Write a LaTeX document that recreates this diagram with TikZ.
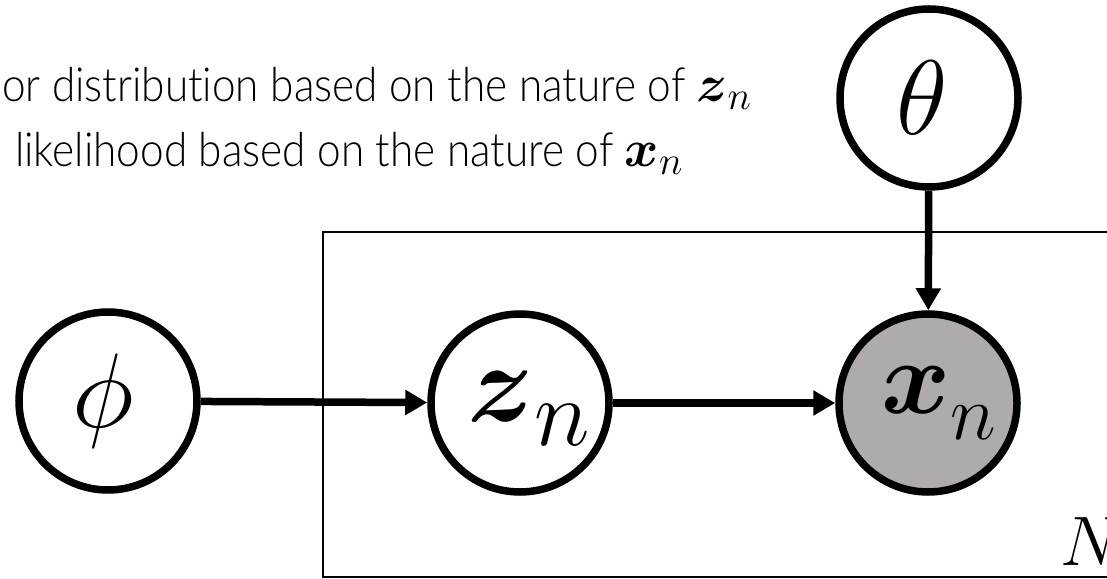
\RequirePackage{fix-cm}
\documentclass[tikz,border=0pt]{standalone}
\usepackage{amsmath,bm}
\usepackage{graphicx}
\usepackage{fontspec}
\newfontfamily\lightsans{Lato Light}[Ligatures=NoCommon]
\usetikzlibrary{arrows.meta}
\definecolor{obsgray}{RGB}{175,171,171}
% bold letter with an italic subscript n, sizes given explicitly
\newcommand{\bsubn}[4]{{\fontsize{#2}{#2}\selectfont$\boldsymbol{#1}$}\raisebox{-#4}{\fontsize{#3}{#3}\selectfont$n$}}
\begin{document}
\begin{tikzpicture}[x=1pt,y=1pt,
  var/.style={circle,draw=black,line width=7.5pt,minimum size=178pt,inner sep=0pt},
  obs/.style={var,fill=obsgray},
  sym/.style={inner sep=0pt,font=\fontsize{106}{110}\selectfont},
  edge/.style={line width=7.5pt,-{Triangle[length=22pt,width=24pt]}},
  plate/.style={draw=black,line width=2pt},
  txt/.style={anchor=base west,inner sep=0pt,font=\lightsans\fontsize{47}{52}\selectfont},
  platelabel/.style={anchor=base west,inner sep=0pt,font=\fontsize{70}{80}\selectfont}]
\useasboundingbox (0,0) rectangle (1107,578);
\clip (0,0) rectangle (1107,578);
\draw[plate] (323,346) rectangle (1140,1);
\node[var,label={[sym,xshift=-5pt]center:$\phi$}] (phi) at (108,177) {};
\node[var,label={[sym,xshift=9pt,yshift=-6pt]center:\bsubn{z}{112}{95}{24pt}}] (z) at (520,175) {};
\node[obs,label={[sym,xshift=11pt]center:\bsubn{x}{105}{78}{26pt}}] (x) at (928,175) {};
\node[var,label={[sym,xshift=-7pt]center:$\theta$}] (theta) at (929,480) {};
\node[platelabel] (N) at (1060,13) {$N$};
\draw[edge] (phi) -- (z);
\draw[edge] (z) -- (x);
\draw[edge] (theta) -- (x);
\node[txt] (l1) at (2,476) {\scalebox{0.9}[1]{or distribution based on the nature of }\bsubn{z}{52}{40}{8pt}};
\node[txt] (l2) at (15,411) {\scalebox{0.9}[1]{likelihood based on the nature of }\bsubn{x}{52}{40}{8pt}};
\end{tikzpicture}
\end{document}
